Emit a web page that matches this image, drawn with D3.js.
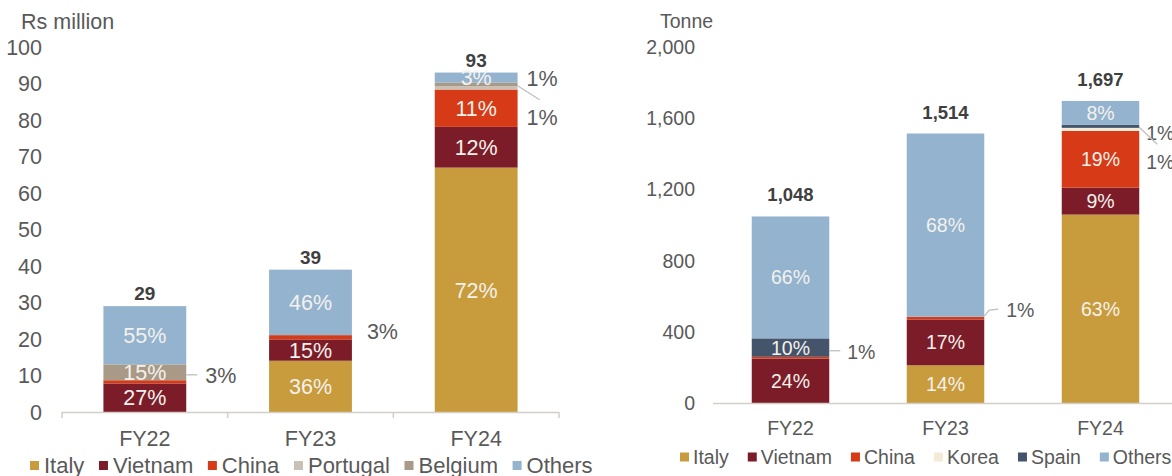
<!DOCTYPE html>
<html>
<head>
<meta charset="utf-8">
<script src="https://cdn.jsdelivr.net/npm/d3@7"></script>
<style>
  html, body { margin: 0; padding: 0; background: #ffffff; }
  svg { display: block; font-family: "Liberation Sans", Arial, sans-serif; }
</style>
</head>
<body>
<svg id="chart" width="1172" height="476"></svg>
<script>
// ---------------- DATA ----------------
const years = ["FY22", "FY23", "FY24"];

// Left chart: export value (Rs million), shares in %
const valueTitle = "Rs million";
const valueTotals = [29, 39, 93];
const valueSeries = ["Italy", "Vietnam", "China", "Portugal", "Belgium", "Others"];
const valueItaly    = [0, 36, 72];
const valueVietnam  = [27, 15, 12];
const valueChina    = [3, 3, 11];
const valuePortugal = [0, 0, 1];
const valueBelgium  = [15, 0, 1];
const valueOthers   = [55, 46, 3];
const valueTicks = [0, 10, 20, 30, 40, 50, 60, 70, 80, 90, 100];

// Right chart: export volume (Tonne), shares in %
const volumeTitle = "Tonne";
const volumeTotals = [1048, 1514, 1697];
const volumeSeries = ["Italy", "Vietnam", "China", "Korea", "Spain", "Others"];
const volumeItaly   = [0, 14, 63];
const volumeVietnam = [24, 17, 9];
const volumeChina   = [1, 1, 19];
const volumeKorea   = [0, 0, 1];
const volumeSpain   = [10, 0, 1];
const volumeOthers  = [66, 68, 8];
const volumeTicks = [0, 400, 800, 1200, 1600, 2000];

// ---------------- STYLE ----------------
const colors = {
  Italy: "#c89b3c", Vietnam: "#7b1c28", China: "#d63a16",
  Portugal: "#c9c1b5", Belgium: "#a89a86", Others: "#93b3cf",
  Korea: "#f3ead8", Spain: "#44546a"
};
const svg = d3.select("#chart");

function drawChart(cfg) {
  const g = svg.append("g");
  const x = d3.scaleBand().domain(years).range(cfg.xRange).paddingInner(0.5).paddingOuter(0.25);
  const y = d3.scaleLinear().domain([0, cfg.ticks[cfg.ticks.length - 1]]).range(cfg.yRange);

  // stacked segments
  const rows = years.map((yr, i) => {
    const sumShares = d3.sum(cfg.shares, s => s[i]);
    const row = { year: yr };
    cfg.series.forEach((name, k) => { row[name] = cfg.totals[i] * cfg.shares[k][i] / sumShares; });
    row._shares = cfg.series.map((n, k) => cfg.shares[k][i]);
    return row;
  });
  const stack = d3.stack().keys(cfg.series)(rows);

  // y tick labels
  g.append("g").selectAll("text").data(cfg.ticks).join("text")
    .attr("x", cfg.tickX).attr("y", d => y(d)).attr("dy", "0.36em")
    .attr("text-anchor", "end").attr("font-size", cfg.fs).attr("fill", "#595959")
    .text(d => d3.format(",")(d));

  // axis title
  g.append("text").attr("x", cfg.titleX).attr("y", cfg.titleY)
    .attr("font-size", cfg.fs).attr("fill", "#595959").text(cfg.title);

  // bars
  stack.forEach((layer, k) => {
    g.append("g").selectAll("rect").data(layer).join("rect")
      .attr("x", d => x(d.data.year)).attr("width", x.bandwidth())
      .attr("y", d => y(d[1])).attr("height", d => Math.max(0, y(d[0]) - y(d[1])))
      .attr("fill", colors[cfg.series[k]]);
  });
  stack.forEach((layer, k) => {
    g.append("g").selectAll("text").data(layer.filter(d => (y(d[0]) - y(d[1])) >= 8)).join("text")
      .attr("x", d => x(d.data.year) + x.bandwidth() / 2)
      .attr("y", d => (y(d[0]) + y(d[1])) / 2).attr("dy", "0.36em")
      .attr("text-anchor", "middle").attr("font-size", cfg.fs).attr("fill", "#f4f1ec")
      .text(d => d.data._shares[k] + "%");
  });

  // totals
  g.append("g").selectAll("text").data(years).join("text")
    .attr("x", d => x(d) + x.bandwidth() / 2)
    .attr("y", (d, i) => y(cfg.totals[i]) - cfg.totalGap)
    .attr("text-anchor", "middle").attr("font-size", cfg.totalFs).attr("font-weight", "bold")
    .attr("fill", "#404040").text((d, i) => d3.format(",")(cfg.totals[i]));

  // axis
  const axisY = y(0);
  g.append("line").attr("x1", cfg.xRange[0]).attr("x2", Math.min(cfg.xRange[1], 1172))
    .attr("y1", axisY + 0.5).attr("y2", axisY + 0.5).attr("stroke", "#d3cec6").attr("stroke-width", 1.5);
  if (cfg.tickMarks) {
    const step = x.step();
    const bounds = d3.range(years.length + 1).map(i => cfg.xRange[0] + i * step);
    g.append("g").selectAll("line").data(bounds).join("line")
      .attr("x1", d => d).attr("x2", d => d).attr("y1", axisY).attr("y2", axisY + 6)
      .attr("stroke", "#d3cec6").attr("stroke-width", 1.5);
  }
  g.append("g").selectAll("text").data(years).join("text")
    .attr("x", d => x(d) + x.bandwidth() / 2).attr("y", axisY + cfg.catGap).attr("dy", "0.36em")
    .attr("text-anchor", "middle").attr("font-size", cfg.fs).attr("fill", "#595959").text(d => d);

  // callouts (outside labels for thin segments)
  cfg.callouts.forEach(c => {
    const i = years.indexOf(c.year), k = cfg.series.indexOf(c.series);
    const seg = stack[k][i];
    const right = x(c.year) + x.bandwidth();
    const mid = (y(seg[0]) + y(seg[1])) / 2;
    if (c.line) {
      g.append("path")
        .attr("d", d3.line()(c.line.map(p => [right + p[0], mid + p[1]])))
        .attr("fill", "none").attr("stroke", "#bfbfbf").attr("stroke-width", 1.3);
    }
    g.append("text").attr("x", right + c.tx).attr("y", mid + c.ty).attr("dy", "0.36em")
      .attr("font-size", cfg.fs).attr("fill", "#595959").text(seg.data._shares[k] + "%");
  });

  // legend
  const lg = g.append("g");
  let lx = cfg.legendX;
  cfg.series.forEach(name => {
    lg.append("rect").attr("x", lx).attr("y", cfg.legendY - 4.5).attr("width", 9).attr("height", 9)
      .attr("fill", colors[name]);
    const t = lg.append("text").attr("x", lx + cfg.legendTextGap).attr("y", cfg.legendY).attr("dy", "0.36em")
      .attr("font-size", cfg.legendFs).attr("fill", "#595959").text(name);
    lx = lx + cfg.legendTextGap + t.node().getComputedTextLength() + cfg.legendGap;
  });
}

drawChart({
  title: valueTitle, titleX: 21, titleY: 29,
  totals: valueTotals, series: valueSeries,
  shares: [valueItaly, valueVietnam, valueChina, valuePortugal, valueBelgium, valueOthers],
  ticks: valueTicks, tickX: 42,
  xRange: [62, 559], yRange: [412, 47],
  fs: 21.5, totalFs: 19, totalGap: 6, catGap: 26, tickMarks: true,
  legendX: 30, legendY: 465.5, legendTextGap: 14, legendGap: 14.6, legendFs: 22,
  callouts: [
    { year: "FY22", series: "China", line: [[0, -7], [11, -7]], tx: 19, ty: -7 },
    { year: "FY23", series: "China", tx: 15, ty: -6 },
    { year: "FY24", series: "Belgium", tx: 9, ty: -6 },
    { year: "FY24", series: "Portugal", line: [[0, -2], [22, 12]], tx: 9, ty: 29 }
  ]
});

drawChart({
  title: volumeTitle, titleX: 660, titleY: 28,
  totals: volumeTotals, series: volumeSeries,
  shares: [volumeItaly, volumeVietnam, volumeChina, volumeKorea, volumeSpain, volumeOthers],
  ticks: volumeTicks, tickX: 695,
  xRange: [713, 1178], yRange: [403, 47],
  fs: 19.5, totalFs: 18.5, totalGap: 15, catGap: 25, tickMarks: false,
  legendX: 680, legendY: 457, legendTextGap: 13, legendGap: 19, legendFs: 19.5,
  callouts: [
    { year: "FY22", series: "China", line: [[0, -7], [11, -7]], tx: 18, ty: -6 },
    { year: "FY23", series: "China", line: [[0, -2], [5, -8], [14, -9]], tx: 22, ty: -8 },
    { year: "FY24", series: "Spain", tx: 7, ty: 7 },
    { year: "FY24", series: "Korea", line: [[0, -2], [18, 15]], tx: 7, ty: 33 }
  ]
});
</script>
</body>
</html>
